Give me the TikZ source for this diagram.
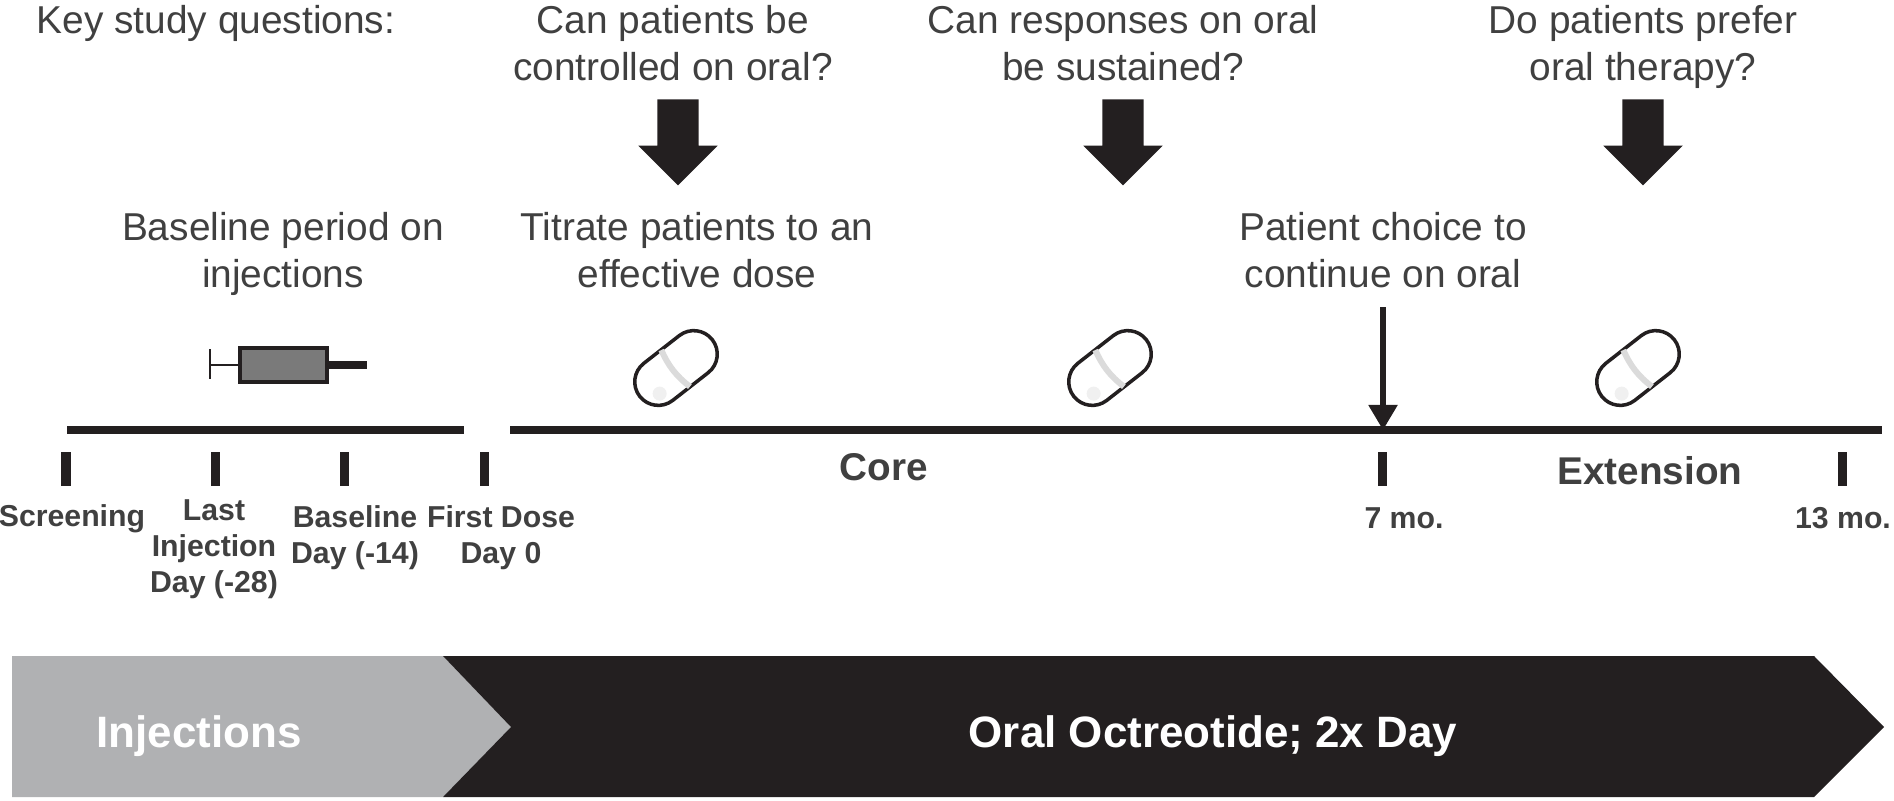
\documentclass[tikz,border=0pt]{standalone}
\usepackage{fontspec}
\setmainfont{Liberation Sans}
\usetikzlibrary{arrows.meta, calc, shapes.arrows, shapes.misc}

\definecolor{inkdark}{HTML}{231F20}
\definecolor{inktext}{HTML}{404040}
\definecolor{bandgray}{HTML}{B0B1B3}

\tikzset{
    question/.style={
        align=center,
        text=inktext,
        inner sep=0pt,
        font=\fontsize{11.05}{13.5}\selectfont
    },
    ticklabel/.style={
        align=center,
        text=inktext,
        inner sep=0pt,
        font=\bfseries\fontsize{8.6}{10.3}\selectfont
    },
    phaselabel/.style={
        text=inktext,
        inner sep=0pt,
        font=\bfseries\fontsize{11}{12}\selectfont
    },
    bandlabel/.style={
        text=white,
        inner sep=0pt,
        font=\bfseries\fontsize{12.5}{14}\selectfont
    },
    blockarrow/.style={
        single arrow,
        fill=inkdark,
        rotate=-90,
        inner xsep=0pt,
        inner ysep=0.2cm,
        minimum height=0.86cm,
        minimum width=0.78cm,
        single arrow head extend=0.19cm,
        single arrow tip angle=90
    },
    tickmark/.style={
        fill=inkdark,
        inner sep=0pt,
        minimum width=0.09cm,
        minimum height=0.33cm
    },
    pillbody/.style={
        rounded rectangle,
        draw=inkdark,
        line width=1pt,
        fill=white,
        rotate=38,
        inner sep=0pt,
        minimum width=0.92cm,
        minimum height=0.47cm
    },
    pillband/.style={
        black!14,
        line width=1.7pt,
        shorten <=0.6pt,
        shorten >=0.6pt,
        bend right=14
    },
    timeline/.style={
        inkdark,
        line width=2pt
    }
}

\begin{document}
\begin{tikzpicture}[x=0.01cm, y=-0.01cm]

\useasboundingbox (0,0) rectangle (1894,800);

% Questions on top
\node[question] (keyquestions) at (216,23) {Key study questions:};
\node[question] (qcontrolled) at (673,43) {Can patients be\\controlled on oral?};
\node[question] (qsustained) at (1123,43) {Can responses on oral\\be sustained?};
\node[question] (qprefer) at (1643,47) {Do patients prefer\\oral therapy?};

% Block arrows
\node[blockarrow] (arrowcontrolled) at (678,132) {};
\node[blockarrow] (arrowsustained) at (1123,132) {};
\node[blockarrow] (arrowprefer) at (1643,132) {};

% Phase texts
\node[question] (baseline) at (283,254) {Baseline period on\\injections};
\node[question] (titrate) at (697,250) {Titrate patients to an\\effective dose};
\node[question] (choice) at (1383,250) {Patient choice to\\continue on oral};

% Syringe
\draw[inkdark, line width=0.8pt] (210,349) -- (210,379);
\draw[inkdark, line width=0.8pt] (210,365) -- (240,365);
\draw[inkdark, line width=2.2pt] (327,365) -- (367,365);
\draw[inkdark, line width=1pt, fill=black!52] (240,348) rectangle (327,382);

% Pills
\node[pillbody] (pillcore) at (676,368) {};
\node[pillbody] (pillmid) at (1110,368) {};
\node[pillbody] (pillext) at (1638,368) {};

% Pill bands
\draw[pillband] (pillcore.north) to (pillcore.south);
\draw[pillband] (pillmid.north) to (pillmid.south);
\draw[pillband] (pillext.north) to (pillext.south);

% Pill shine
\fill[black!6] ($(pillcore.south)!0.6!(pillcore.west)$) circle (0.07cm);
\fill[black!6] ($(pillmid.south)!0.6!(pillmid.west)$) circle (0.07cm);
\fill[black!6] ($(pillext.south)!0.6!(pillext.west)$) circle (0.07cm);

% Timeline points
\coordinate (leftstart) at (67,430);
\coordinate (leftend) at (464,430);
\coordinate (rightstart) at (510,430);
\coordinate (rightend) at (1882,430);
\coordinate (choicetop) at (1383,307);
\coordinate (choicetip) at (1383,430);

% Timelines
\draw[timeline] (leftstart) -- (leftend);
\draw[timeline] (rightstart) -- (rightend);

% Patient choice arrow
\draw[
    inkdark,
    line width=1.5pt,
    -{Triangle[length=0.25cm, width=0.28cm]}
    ]
    (choicetop) -- (choicetip);

% Ticks
\node[tickmark] (tickscreen) at (66,469) {};
\node[tickmark] (ticklast) at (215,469) {};
\node[tickmark] (tickbase) at (344,469) {};
\node[tickmark] (tickfirst) at (484,469) {};
\node[tickmark] (tickseven) at (1382,469) {};
\node[tickmark] (tickthirteen) at (1842,469) {};

% Tick labels
\node[ticklabel] (screening) at (72,519) {Screening};
\node[ticklabel] (lastinjection) at (214,549) {Last\\Injection\\Day (-28)};
\node[ticklabel] (baselineday) at (355,538) {Baseline\\Day (-14)};
\node[ticklabel] (firstdose) at (501,538) {First Dose\\Day 0};
\node[ticklabel] (sevenmo) at (1404,518) {7 mo.};
\node[ticklabel] (thirteenmo) at (1843,518) {13 mo.};

% Phase names
\node[phaselabel] (core) at (884,467) {Core};
\node[phaselabel] (extension) at (1650,471) {Extension};

% Bottom band
\fill[bandgray] (12,656) -- (443,656) -- (511,727) -- (443,797) -- (12,797) -- cycle;
\fill[inkdark] (443,656) -- (1814,656) -- (1884,727) -- (1814,797) -- (443,797) -- (511,727) -- cycle;
\node[bandlabel] (injections) at (199,736) {Injections};
\node[bandlabel] (oral) at (1213,736) {Oral Octreotide; 2x Day};

\end{tikzpicture}
\end{document}
